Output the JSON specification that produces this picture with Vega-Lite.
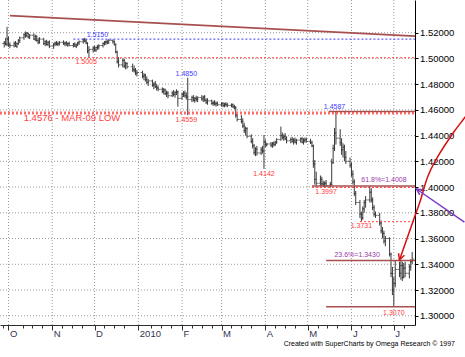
{
"$schema": "https://vega.github.io/schema/vega-lite/v6.json",
"width": 415, "height": 325,
"autosize": {"type": "none"},
"padding": {"left": 0, "top": 0, "right": 50, "bottom": 32},
"background": "white",
"config": {"view": {"stroke": null}, "font": "Liberation Sans", "axis": {"labelOverlap": false}},
"title": {"text": "Created with SuperCharts by Omega Research © 1997", "orient": "bottom", "anchor": "end", "frame": "group", "dx": 40, "fontSize": 7, "font": "Liberation Sans", "fontWeight": "normal", "color": "#000000", "offset": 2},
"resolve": {"axis": {"x": "independent", "y": "independent"}},
"datasets": {
"gx": [{"d":"2009-10-01"},{"d":"2009-11-01"},{"d":"2009-12-01"},{"d":"2010-01-01"},{"d":"2010-02-01"},{"d":"2010-03-01"},{"d":"2010-04-01"},{"d":"2010-05-01"},{"d":"2010-06-01"},{"d":"2010-07-01"}],
"gy": [{"p":1.30},{"p":1.32},{"p":1.34},{"p":1.36},{"p":1.38},{"p":1.40},{"p":1.42},{"p":1.44},{"p":1.46},{"p":1.48},{"p":1.50},{"p":1.52}],
"bars": [
{"d":"2009-09-28","o":1.5115,"h":1.5135,"l":1.5085,"c":1.5120},
{"d":"2009-09-29","o":1.5120,"h":1.5160,"l":1.5100,"c":1.5110},
{"d":"2009-09-30","o":1.5110,"h":1.5245,"l":1.5095,"c":1.5150},
{"d":"2009-10-01","o":1.5150,"h":1.5170,"l":1.5090,"c":1.5105},
{"d":"2009-10-02","o":1.5105,"h":1.5125,"l":1.5080,"c":1.5100},
{"d":"2009-10-05","o":1.5100,"h":1.5130,"l":1.5085,"c":1.5115},
{"d":"2009-10-06","o":1.5115,"h":1.5135,"l":1.5090,"c":1.5095},
{"d":"2009-10-07","o":1.5095,"h":1.5125,"l":1.5080,"c":1.5115},
{"d":"2009-10-08","o":1.5115,"h":1.5150,"l":1.5105,"c":1.5140},
{"d":"2009-10-09","o":1.5140,"h":1.5170,"l":1.5120,"c":1.5160},
{"d":"2009-10-12","o":1.5160,"h":1.5195,"l":1.5145,"c":1.5185},
{"d":"2009-10-13","o":1.5185,"h":1.5210,"l":1.5160,"c":1.5175},
{"d":"2009-10-14","o":1.5175,"h":1.5205,"l":1.5165,"c":1.5195},
{"d":"2009-10-15","o":1.5195,"h":1.5200,"l":1.5155,"c":1.5165},
{"d":"2009-10-16","o":1.5165,"h":1.5190,"l":1.5150,"c":1.5180},
{"d":"2009-10-19","o":1.5180,"h":1.5195,"l":1.5145,"c":1.5150},
{"d":"2009-10-20","o":1.5150,"h":1.5185,"l":1.5135,"c":1.5170},
{"d":"2009-10-21","o":1.5170,"h":1.5180,"l":1.5130,"c":1.5140},
{"d":"2009-10-22","o":1.5140,"h":1.5160,"l":1.5110,"c":1.5125},
{"d":"2009-10-23","o":1.5125,"h":1.5165,"l":1.5115,"c":1.5150},
{"d":"2009-10-26","o":1.5150,"h":1.5160,"l":1.5105,"c":1.5115},
{"d":"2009-10-27","o":1.5115,"h":1.5140,"l":1.5095,"c":1.5130},
{"d":"2009-10-28","o":1.5130,"h":1.5145,"l":1.5100,"c":1.5110},
{"d":"2009-10-29","o":1.5110,"h":1.5135,"l":1.5095,"c":1.5125},
{"d":"2009-10-30","o":1.5125,"h":1.5140,"l":1.5080,"c":1.5095},
{"d":"2009-11-02","o":1.5095,"h":1.5120,"l":1.5075,"c":1.5110},
{"d":"2009-11-03","o":1.5110,"h":1.5130,"l":1.5095,"c":1.5120},
{"d":"2009-11-04","o":1.5120,"h":1.5135,"l":1.5100,"c":1.5110},
{"d":"2009-11-05","o":1.5110,"h":1.5130,"l":1.5095,"c":1.5115},
{"d":"2009-11-06","o":1.5115,"h":1.5135,"l":1.5100,"c":1.5125},
{"d":"2009-11-09","o":1.5125,"h":1.5140,"l":1.5105,"c":1.5115},
{"d":"2009-11-10","o":1.5115,"h":1.5130,"l":1.5095,"c":1.5120},
{"d":"2009-11-11","o":1.5120,"h":1.5135,"l":1.5100,"c":1.5105},
{"d":"2009-11-12","o":1.5105,"h":1.5125,"l":1.5090,"c":1.5115},
{"d":"2009-11-13","o":1.5115,"h":1.5130,"l":1.5095,"c":1.5100},
{"d":"2009-11-16","o":1.5100,"h":1.5120,"l":1.5085,"c":1.5110},
{"d":"2009-11-17","o":1.5110,"h":1.5125,"l":1.5090,"c":1.5095},
{"d":"2009-11-18","o":1.5095,"h":1.5115,"l":1.5080,"c":1.5105},
{"d":"2009-11-19","o":1.5105,"h":1.5130,"l":1.5095,"c":1.5120},
{"d":"2009-11-20","o":1.5120,"h":1.5140,"l":1.5105,"c":1.5130},
{"d":"2009-11-23","o":1.5130,"h":1.5155,"l":1.5115,"c":1.5145},
{"d":"2009-11-24","o":1.5145,"h":1.5160,"l":1.5125,"c":1.5135},
{"d":"2009-11-25","o":1.5135,"h":1.5150,"l":1.5110,"c":1.5120},
{"d":"2009-11-26","o":1.5120,"h":1.5125,"l":1.5040,"c":1.5060},
{"d":"2009-11-27","o":1.5060,"h":1.5095,"l":1.5005,"c":1.5070},
{"d":"2009-11-30","o":1.5070,"h":1.5095,"l":1.5045,"c":1.5080},
{"d":"2009-12-01","o":1.5080,"h":1.5100,"l":1.5055,"c":1.5065},
{"d":"2009-12-02","o":1.5065,"h":1.5090,"l":1.5050,"c":1.5085},
{"d":"2009-12-03","o":1.5085,"h":1.5105,"l":1.5065,"c":1.5090},
{"d":"2009-12-04","o":1.5090,"h":1.5110,"l":1.5070,"c":1.5100},
{"d":"2009-12-07","o":1.5100,"h":1.5125,"l":1.5085,"c":1.5115},
{"d":"2009-12-08","o":1.5115,"h":1.5135,"l":1.5100,"c":1.5125},
{"d":"2009-12-09","o":1.5125,"h":1.5140,"l":1.5105,"c":1.5130},
{"d":"2009-12-10","o":1.5130,"h":1.5145,"l":1.5110,"c":1.5120},
{"d":"2009-12-11","o":1.5120,"h":1.5150,"l":1.5115,"c":1.5140},
{"d":"2009-12-14","o":1.5140,"h":1.5148,"l":1.5115,"c":1.5130},
{"d":"2009-12-15","o":1.5130,"h":1.5140,"l":1.5100,"c":1.5110},
{"d":"2009-12-16","o":1.5110,"h":1.5115,"l":1.5040,"c":1.5050},
{"d":"2009-12-17","o":1.5050,"h":1.5060,"l":1.4960,"c":1.4975},
{"d":"2009-12-18","o":1.4975,"h":1.5010,"l":1.4930,"c":1.4950},
{"d":"2009-12-21","o":1.4950,"h":1.5000,"l":1.4930,"c":1.4985},
{"d":"2009-12-22","o":1.4985,"h":1.4995,"l":1.4925,"c":1.4940},
{"d":"2009-12-23","o":1.4940,"h":1.4975,"l":1.4915,"c":1.4960},
{"d":"2009-12-24","o":1.4960,"h":1.4970,"l":1.4920,"c":1.4935},
{"d":"2009-12-28","o":1.4935,"h":1.4960,"l":1.4895,"c":1.4915},
{"d":"2009-12-29","o":1.4915,"h":1.4945,"l":1.4890,"c":1.4905},
{"d":"2009-12-30","o":1.4905,"h":1.4925,"l":1.4870,"c":1.4885},
{"d":"2009-12-31","o":1.4885,"h":1.4910,"l":1.4860,"c":1.4890},
{"d":"2010-01-04","o":1.4890,"h":1.4905,"l":1.4845,"c":1.4860},
{"d":"2010-01-05","o":1.4860,"h":1.4885,"l":1.4830,"c":1.4870},
{"d":"2010-01-06","o":1.4870,"h":1.4880,"l":1.4820,"c":1.4835},
{"d":"2010-01-07","o":1.4835,"h":1.4860,"l":1.4800,"c":1.4815},
{"d":"2010-01-08","o":1.4815,"h":1.4840,"l":1.4785,"c":1.4825},
{"d":"2010-01-11","o":1.4825,"h":1.4835,"l":1.4780,"c":1.4790},
{"d":"2010-01-12","o":1.4790,"h":1.4815,"l":1.4760,"c":1.4800},
{"d":"2010-01-13","o":1.4800,"h":1.4825,"l":1.4770,"c":1.4780},
{"d":"2010-01-14","o":1.4780,"h":1.4800,"l":1.4750,"c":1.4770},
{"d":"2010-01-15","o":1.4770,"h":1.4790,"l":1.4745,"c":1.4760},
{"d":"2010-01-18","o":1.4760,"h":1.4775,"l":1.4730,"c":1.4745},
{"d":"2010-01-19","o":1.4745,"h":1.4770,"l":1.4720,"c":1.4755},
{"d":"2010-01-20","o":1.4755,"h":1.4765,"l":1.4715,"c":1.4725},
{"d":"2010-01-21","o":1.4725,"h":1.4750,"l":1.4700,"c":1.4730},
{"d":"2010-01-22","o":1.4730,"h":1.4745,"l":1.4690,"c":1.4710},
{"d":"2010-01-25","o":1.4710,"h":1.4745,"l":1.4700,"c":1.4730},
{"d":"2010-01-26","o":1.4730,"h":1.4755,"l":1.4705,"c":1.4720},
{"d":"2010-01-27","o":1.4720,"h":1.4745,"l":1.4695,"c":1.4735},
{"d":"2010-01-28","o":1.4735,"h":1.4760,"l":1.4715,"c":1.4740},
{"d":"2010-01-29","o":1.4740,"h":1.4750,"l":1.4625,"c":1.4690},
{"d":"2010-02-01","o":1.4690,"h":1.4735,"l":1.4680,"c":1.4720},
{"d":"2010-02-02","o":1.4720,"h":1.4745,"l":1.4700,"c":1.4730},
{"d":"2010-02-03","o":1.4730,"h":1.4750,"l":1.4695,"c":1.4710},
{"d":"2010-02-04","o":1.4710,"h":1.4735,"l":1.4680,"c":1.4700},
{"d":"2010-02-05","o":1.4700,"h":1.4850,"l":1.4559,"c":1.4680},
{"d":"2010-02-08","o":1.4680,"h":1.4710,"l":1.4660,"c":1.4695},
{"d":"2010-02-09","o":1.4695,"h":1.4715,"l":1.4665,"c":1.4675},
{"d":"2010-02-10","o":1.4675,"h":1.4700,"l":1.4655,"c":1.4690},
{"d":"2010-02-11","o":1.4690,"h":1.4710,"l":1.4665,"c":1.4680},
{"d":"2010-02-12","o":1.4680,"h":1.4705,"l":1.4660,"c":1.4695},
{"d":"2010-02-15","o":1.4695,"h":1.4715,"l":1.4670,"c":1.4685},
{"d":"2010-02-16","o":1.4685,"h":1.4710,"l":1.4660,"c":1.4700},
{"d":"2010-02-17","o":1.4700,"h":1.4715,"l":1.4665,"c":1.4675},
{"d":"2010-02-18","o":1.4675,"h":1.4690,"l":1.4645,"c":1.4660},
{"d":"2010-02-19","o":1.4660,"h":1.4690,"l":1.4640,"c":1.4670},
{"d":"2010-02-22","o":1.4670,"h":1.4680,"l":1.4640,"c":1.4650},
{"d":"2010-02-23","o":1.4650,"h":1.4670,"l":1.4630,"c":1.4655},
{"d":"2010-02-24","o":1.4655,"h":1.4675,"l":1.4635,"c":1.4645},
{"d":"2010-02-25","o":1.4645,"h":1.4665,"l":1.4625,"c":1.4650},
{"d":"2010-02-26","o":1.4650,"h":1.4665,"l":1.4630,"c":1.4640},
{"d":"2010-03-01","o":1.4640,"h":1.4660,"l":1.4625,"c":1.4650},
{"d":"2010-03-02","o":1.4650,"h":1.4660,"l":1.4620,"c":1.4635},
{"d":"2010-03-03","o":1.4635,"h":1.4655,"l":1.4620,"c":1.4645},
{"d":"2010-03-04","o":1.4645,"h":1.4660,"l":1.4625,"c":1.4640},
{"d":"2010-03-05","o":1.4640,"h":1.4655,"l":1.4620,"c":1.4635},
{"d":"2010-03-08","o":1.4635,"h":1.4650,"l":1.4620,"c":1.4640},
{"d":"2010-03-09","o":1.4640,"h":1.4650,"l":1.4615,"c":1.4625},
{"d":"2010-03-10","o":1.4625,"h":1.4640,"l":1.4605,"c":1.4615},
{"d":"2010-03-11","o":1.4615,"h":1.4630,"l":1.4540,"c":1.4560},
{"d":"2010-03-12","o":1.4560,"h":1.4580,"l":1.4510,"c":1.4525},
{"d":"2010-03-15","o":1.4525,"h":1.4560,"l":1.4495,"c":1.4510},
{"d":"2010-03-16","o":1.4510,"h":1.4535,"l":1.4460,"c":1.4475},
{"d":"2010-03-17","o":1.4475,"h":1.4500,"l":1.4420,"c":1.4440},
{"d":"2010-03-18","o":1.4440,"h":1.4470,"l":1.4400,"c":1.4455},
{"d":"2010-03-19","o":1.4455,"h":1.4465,"l":1.4380,"c":1.4395},
{"d":"2010-03-22","o":1.4395,"h":1.4410,"l":1.4340,"c":1.4355},
{"d":"2010-03-23","o":1.4355,"h":1.4380,"l":1.4300,"c":1.4320},
{"d":"2010-03-24","o":1.4320,"h":1.4335,"l":1.4250,"c":1.4270},
{"d":"2010-03-25","o":1.4270,"h":1.4310,"l":1.4240,"c":1.4295},
{"d":"2010-03-26","o":1.4295,"h":1.4320,"l":1.4245,"c":1.4265},
{"d":"2010-03-29","o":1.4265,"h":1.4310,"l":1.4250,"c":1.4290},
{"d":"2010-03-30","o":1.4290,"h":1.4320,"l":1.4260,"c":1.4280},
{"d":"2010-03-31","o":1.4280,"h":1.4405,"l":1.4142,"c":1.4350},
{"d":"2010-04-01","o":1.4350,"h":1.4370,"l":1.4310,"c":1.4330},
{"d":"2010-04-02","o":1.4330,"h":1.4345,"l":1.4315,"c":1.4335},
{"d":"2010-04-05","o":1.4335,"h":1.4350,"l":1.4310,"c":1.4325},
{"d":"2010-04-06","o":1.4325,"h":1.4350,"l":1.4305,"c":1.4340},
{"d":"2010-04-07","o":1.4340,"h":1.4355,"l":1.4315,"c":1.4330},
{"d":"2010-04-08","o":1.4330,"h":1.4360,"l":1.4320,"c":1.4350},
{"d":"2010-04-09","o":1.4350,"h":1.4380,"l":1.4335,"c":1.4370},
{"d":"2010-04-12","o":1.4370,"h":1.4470,"l":1.4360,"c":1.4400},
{"d":"2010-04-13","o":1.4400,"h":1.4425,"l":1.4370,"c":1.4385},
{"d":"2010-04-14","o":1.4385,"h":1.4410,"l":1.4360,"c":1.4395},
{"d":"2010-04-15","o":1.4395,"h":1.4420,"l":1.4365,"c":1.4375},
{"d":"2010-04-16","o":1.4375,"h":1.4395,"l":1.4340,"c":1.4360},
{"d":"2010-04-19","o":1.4360,"h":1.4385,"l":1.4340,"c":1.4370},
{"d":"2010-04-20","o":1.4370,"h":1.4390,"l":1.4345,"c":1.4355},
{"d":"2010-04-21","o":1.4355,"h":1.4380,"l":1.4330,"c":1.4365},
{"d":"2010-04-22","o":1.4365,"h":1.4385,"l":1.4340,"c":1.4350},
{"d":"2010-04-23","o":1.4350,"h":1.4375,"l":1.4330,"c":1.4365},
{"d":"2010-04-26","o":1.4365,"h":1.4385,"l":1.4345,"c":1.4375},
{"d":"2010-04-27","o":1.4375,"h":1.4390,"l":1.4340,"c":1.4350},
{"d":"2010-04-28","o":1.4350,"h":1.4380,"l":1.4330,"c":1.4360},
{"d":"2010-04-29","o":1.4360,"h":1.4385,"l":1.4345,"c":1.4370},
{"d":"2010-04-30","o":1.4370,"h":1.4385,"l":1.4345,"c":1.4355},
{"d":"2010-05-03","o":1.4355,"h":1.4375,"l":1.4335,"c":1.4345},
{"d":"2010-05-04","o":1.4345,"h":1.4360,"l":1.4310,"c":1.4320},
{"d":"2010-05-05","o":1.4320,"h":1.4330,"l":1.4150,"c":1.4180},
{"d":"2010-05-06","o":1.4180,"h":1.4210,"l":1.4020,"c":1.4060},
{"d":"2010-05-07","o":1.4060,"h":1.4120,"l":1.4010,"c":1.4030},
{"d":"2010-05-10","o":1.4030,"h":1.4090,"l":1.4005,"c":1.4060},
{"d":"2010-05-11","o":1.4060,"h":1.4080,"l":1.4010,"c":1.4025},
{"d":"2010-05-12","o":1.4025,"h":1.4050,"l":1.4000,"c":1.4015},
{"d":"2010-05-13","o":1.4015,"h":1.4045,"l":1.3997,"c":1.4030},
{"d":"2010-05-14","o":1.4030,"h":1.4055,"l":1.4000,"c":1.4010},
{"d":"2010-05-17","o":1.4010,"h":1.4040,"l":1.3997,"c":1.4020},
{"d":"2010-05-18","o":1.4020,"h":1.4220,"l":1.4010,"c":1.4190},
{"d":"2010-05-19","o":1.4190,"h":1.4330,"l":1.4180,"c":1.4300},
{"d":"2010-05-20","o":1.4300,"h":1.4460,"l":1.4280,"c":1.4420},
{"d":"2010-05-21","o":1.4420,"h":1.4587,"l":1.4330,"c":1.4380},
{"d":"2010-05-24","o":1.4380,"h":1.4450,"l":1.4320,"c":1.4345},
{"d":"2010-05-25","o":1.4345,"h":1.4380,"l":1.4250,"c":1.4290},
{"d":"2010-05-26","o":1.4290,"h":1.4340,"l":1.4230,"c":1.4310},
{"d":"2010-05-27","o":1.4310,"h":1.4330,"l":1.4200,"c":1.4230},
{"d":"2010-05-28","o":1.4230,"h":1.4280,"l":1.4180,"c":1.4200},
{"d":"2010-05-31","o":1.4200,"h":1.4230,"l":1.4150,"c":1.4170},
{"d":"2010-06-01","o":1.4170,"h":1.4190,"l":1.4080,"c":1.4100},
{"d":"2010-06-02","o":1.4100,"h":1.4130,"l":1.4020,"c":1.4040},
{"d":"2010-06-03","o":1.4040,"h":1.4060,"l":1.3930,"c":1.3950},
{"d":"2010-06-04","o":1.3950,"h":1.3970,"l":1.3860,"c":1.3880},
{"d":"2010-06-07","o":1.3880,"h":1.3900,"l":1.3760,"c":1.3790},
{"d":"2010-06-08","o":1.3790,"h":1.3810,"l":1.3731,"c":1.3760},
{"d":"2010-06-09","o":1.3760,"h":1.3850,"l":1.3745,"c":1.3830},
{"d":"2010-06-10","o":1.3830,"h":1.3900,"l":1.3800,"c":1.3880},
{"d":"2010-06-11","o":1.3880,"h":1.3930,"l":1.3840,"c":1.3900},
{"d":"2010-06-14","o":1.3900,"h":1.4008,"l":1.3880,"c":1.3960},
{"d":"2010-06-15","o":1.3960,"h":1.3990,"l":1.3880,"c":1.3900},
{"d":"2010-06-16","o":1.3900,"h":1.3920,"l":1.3820,"c":1.3840},
{"d":"2010-06-17","o":1.3840,"h":1.3860,"l":1.3770,"c":1.3790},
{"d":"2010-06-18","o":1.3790,"h":1.3810,"l":1.3760,"c":1.3780},
{"d":"2010-06-21","o":1.3780,"h":1.3800,"l":1.3700,"c":1.3720},
{"d":"2010-06-22","o":1.3720,"h":1.3740,"l":1.3640,"c":1.3660},
{"d":"2010-06-23","o":1.3660,"h":1.3690,"l":1.3600,"c":1.3640},
{"d":"2010-06-24","o":1.3640,"h":1.3660,"l":1.3560,"c":1.3580},
{"d":"2010-06-25","o":1.3580,"h":1.3620,"l":1.3540,"c":1.3600},
{"d":"2010-06-28","o":1.3600,"h":1.3610,"l":1.3460,"c":1.3480},
{"d":"2010-06-29","o":1.3480,"h":1.3490,"l":1.3300,"c":1.3330},
{"d":"2010-06-30","o":1.3330,"h":1.3380,"l":1.3160,"c":1.3200},
{"d":"2010-07-01","o":1.3200,"h":1.3300,"l":1.3070,"c":1.3250},
{"d":"2010-07-02","o":1.3250,"h":1.3430,"l":1.3220,"c":1.3360},
{"d":"2010-07-05","o":1.3360,"h":1.3420,"l":1.3300,"c":1.3330},
{"d":"2010-07-06","o":1.3330,"h":1.3430,"l":1.3280,"c":1.3390},
{"d":"2010-07-07","o":1.3390,"h":1.3420,"l":1.3270,"c":1.3300},
{"d":"2010-07-08","o":1.3300,"h":1.3410,"l":1.3290,"c":1.3370},
{"d":"2010-07-09","o":1.3370,"h":1.3420,"l":1.3300,"c":1.3330},
{"d":"2010-07-12","o":1.3330,"h":1.3400,"l":1.3290,"c":1.3380},
{"d":"2010-07-13","o":1.3380,"h":1.3440,"l":1.3350,"c":1.3420},
{"d":"2010-07-14","o":1.3420,"h":1.3495,"l":1.3400,"c":1.3440}
],
"trend": [{"d":"2009-10-02","p":1.5332},{"d":"2010-07-16","p":1.5174}],
"levels": [
{"kind":"res","d1":"2009-11-16","d2":"2010-07-16","p":1.5150},
{"kind":"sup","d1":"2009-09-25","d2":"2010-07-16","p":1.5005},
{"kind":"major","d1":"2009-09-25","d2":"2010-07-16","p":1.4576},
{"kind":"fib","d1":"2010-05-16","d2":"2010-07-16","p":1.4587},
{"kind":"fib","d1":"2010-05-04","d2":"2010-07-16","p":1.4008},
{"kind":"sup","d1":"2010-05-04","d2":"2010-07-16","p":1.3997},
{"kind":"sup","d1":"2010-06-07","d2":"2010-07-16","p":1.3731},
{"kind":"fib","d1":"2010-05-14","d2":"2010-07-16","p":1.3430},
{"kind":"fib","d1":"2010-05-14","d2":"2010-07-16","p":1.3070}
],
"labels": [
{"kind":"high","d":"2009-12-03","p":1.5182,"t":"1.5150"},
{"kind":"low","d":"2009-11-25","p":1.4976,"t":"1.5005"},
{"kind":"high","d":"2010-02-04","p":1.4875,"t":"1.4850"},
{"kind":"low","d":"2010-02-04","p":1.4525,"t":"1.4559"},
{"kind":"note","d":"2009-11-15","p":1.4533,"t":"1.4576 - MAR-09 LOW"},
{"kind":"high","d":"2010-05-20","p":1.4622,"t":"1.4587"},
{"kind":"low","d":"2010-03-31","p":1.4098,"t":"1.4142"},
{"kind":"low","d":"2010-05-14","p":1.3958,"t":"1.3997"},
{"kind":"fib","d":"2010-06-24","p":1.4055,"t":"61.8%=1.4008"},
{"kind":"low","d":"2010-06-08","p":1.3701,"t":"1.3731"},
{"kind":"fib","d":"2010-06-05","p":1.3472,"t":"23.6%=1.3430"},
{"kind":"low","d":"2010-07-01","p":1.3021,"t":"1.3070"}
],
"arc": [
{"ord":1,"d":"2010-08-24","p":1.4599},
{"ord":2,"d":"2010-08-20","p":1.4537},
{"ord":3,"d":"2010-08-12","p":1.4420},
{"ord":4,"d":"2010-08-01","p":1.4234},
{"ord":5,"d":"2010-07-25","p":1.4080},
{"ord":6,"d":"2010-07-20","p":1.3902},
{"ord":7,"d":"2010-07-16","p":1.3777},
{"ord":8,"d":"2010-07-05","p":1.3433}
],
"purple": [{"ord":1,"d":"2010-08-20","p":1.3728},{"ord":2,"d":"2010-07-17","p":1.3985}],
"heads": [{"kind":"red","d":"2010-07-05","p":1.3433},{"kind":"purple","d":"2010-07-17","p":1.3985}]
},
"layer": [
{"data":{"name":"gx"},
 "mark":{"type":"rule","color":"#9a9a9a","strokeWidth":1,"strokeDash":[1,2]},
 "encoding":{"x":{"field":"d","type":"temporal","axis":null}}},
{"data":{"name":"gy"},
 "mark":{"type":"rule","color":"#9a9a9a","strokeWidth":1,"strokeDash":[1,2]},
 "encoding":{"y":{"field":"p","type":"quantitative","axis":null}}},
{"data":{"name":"bars"},
 "mark":{"type":"rule","color":"#3a3a3a","strokeWidth":1},
 "encoding":{
  "x":{"field":"d","type":"temporal",
   "scale":{"type":"utc","domain":[{"year":2009,"month":9,"date":25,"utc":true},{"year":2010,"month":7,"date":16,"utc":true}]},
   "axis":{"title":null,"orient":"bottom",
    "values":[
     {"year":2009,"month":10,"date":1,"utc":true},{"year":2009,"month":11,"date":1,"utc":true},{"year":2009,"month":12,"date":1,"utc":true},
     {"year":2010,"month":1,"date":1,"utc":true},{"year":2010,"month":2,"date":1,"utc":true},{"year":2010,"month":3,"date":1,"utc":true},
     {"year":2010,"month":4,"date":1,"utc":true},{"year":2010,"month":5,"date":1,"utc":true},{"year":2010,"month":6,"date":1,"utc":true},
     {"year":2010,"month":7,"date":1,"utc":true}
    ],
    "labelExpr":"utcmonth(datum.value)==0 ? '2010' : slice(utcFormat(datum.value,'%b'),0,1)",
    "labelAlign":"left","labelOffset":1,"labelFontSize":9.5,"labelColor":"#333355","labelPadding":-2,
    "labelOverlap":false,"labelFlush":false,"labelBaseline":"top",
    "tickSize":5,"tickColor":"#303030","domainColor":"#303030",
    "grid":false}},
  "y":{"field":"l","type":"quantitative",
   "scale":{"domain":[1.2928,1.5454],"zero":false,"nice":false},
   "axis":{"title":null,"orient":"right","values":[1.30,1.32,1.34,1.36,1.38,1.40,1.42,1.44,1.46,1.48,1.50,1.52],
    "format":".5f","labelFontSize":9.5,"labelColor":"#000000","tickSize":3,"tickColor":"#000000","domainColor":"#000000",
    "labelOverlap":false,"labelPadding":1.5,"grid":false}},
  "y2":{"field":"h"}}},
{"data":{"name":"bars"},
 "mark":{"type":"tick","orient":"horizontal","size":2,"thickness":1,"xOffset":-1,"color":"#3a3a3a"},
 "encoding":{"x":{"field":"d","type":"temporal",
   "axis":{"title":null,"orient":"bottom","labels":false,"grid":false,"domain":false,"tickSize":3,"tickColor":"#303030",
    "values":[
     {"year":2009,"month":9,"date":27,"utc":true},{"year":2009,"month":10,"date":11,"utc":true},{"year":2009,"month":10,"date":18,"utc":true},{"year":2009,"month":10,"date":25,"utc":true},
     {"year":2009,"month":11,"date":8,"utc":true},{"year":2009,"month":11,"date":15,"utc":true},{"year":2009,"month":11,"date":22,"utc":true},
     {"year":2009,"month":12,"date":8,"utc":true},{"year":2009,"month":12,"date":15,"utc":true},{"year":2009,"month":12,"date":22,"utc":true},
     {"year":2010,"month":1,"date":10,"utc":true},{"year":2010,"month":1,"date":17,"utc":true},{"year":2010,"month":1,"date":24,"utc":true},
     {"year":2010,"month":2,"date":8,"utc":true},{"year":2010,"month":2,"date":15,"utc":true},{"year":2010,"month":2,"date":22,"utc":true},
     {"year":2010,"month":3,"date":8,"utc":true},{"year":2010,"month":3,"date":15,"utc":true},{"year":2010,"month":3,"date":22,"utc":true},
     {"year":2010,"month":4,"date":8,"utc":true},{"year":2010,"month":4,"date":15,"utc":true},{"year":2010,"month":4,"date":22,"utc":true},
     {"year":2010,"month":5,"date":8,"utc":true},{"year":2010,"month":5,"date":15,"utc":true},{"year":2010,"month":5,"date":22,"utc":true},
     {"year":2010,"month":6,"date":8,"utc":true},{"year":2010,"month":6,"date":15,"utc":true},{"year":2010,"month":6,"date":22,"utc":true},
     {"year":2010,"month":7,"date":8,"utc":true}
    ]}},
  "y":{"field":"o","type":"quantitative","axis":null}}},
{"data":{"name":"bars"},
 "mark":{"type":"tick","orient":"horizontal","size":2,"thickness":1,"xOffset":1,"color":"#3a3a3a"},
 "encoding":{"x":{"field":"d","type":"temporal","axis":null},"y":{"field":"c","type":"quantitative","axis":null}}},
{"data":{"name":"trend"},
 "mark":{"type":"line","color":"#a85050","strokeWidth":1.8},
 "encoding":{"x":{"field":"d","type":"temporal","axis":null},"y":{"field":"p","type":"quantitative","axis":null}}},
{"data":{"name":"levels"},"transform":[{"filter":"datum.kind=='major'"}],
 "mark":{"type":"rule","color":"#ff6a6a","strokeWidth":3,"strokeDash":[2,2]},
 "encoding":{"x":{"field":"d1","type":"temporal","axis":null},"x2":{"field":"d2"},"y":{"field":"p","type":"quantitative","axis":null}}},
{"data":{"name":"levels"},"transform":[{"filter":"datum.kind=='fib'"}],
 "mark":{"type":"rule","color":"#a85050","strokeWidth":1.5},
 "encoding":{"x":{"field":"d1","type":"temporal","axis":null},"x2":{"field":"d2"},"y":{"field":"p","type":"quantitative","axis":null}}},
{"data":{"name":"levels"},"transform":[{"filter":"datum.kind=='sup'"}],
 "mark":{"type":"rule","color":"#ff4040","strokeWidth":1,"strokeDash":[2,2]},
 "encoding":{"x":{"field":"d1","type":"temporal","axis":null},"x2":{"field":"d2"},"y":{"field":"p","type":"quantitative","axis":null}}},
{"data":{"name":"levels"},"transform":[{"filter":"datum.kind=='res'"}],
 "mark":{"type":"rule","color":"#3a3aff","strokeWidth":1,"strokeDash":[2,2]},
 "encoding":{"x":{"field":"d1","type":"temporal","axis":null},"x2":{"field":"d2"},"y":{"field":"p","type":"quantitative","axis":null}}},
{"data":{"name":"labels"},"transform":[{"filter":"datum.kind=='high'"}],
 "mark":{"type":"text","color":"#4040ff","fontSize":7,"baseline":"middle","align":"center"},
 "encoding":{"x":{"field":"d","type":"temporal","axis":null},"y":{"field":"p","type":"quantitative","axis":null},"text":{"field":"t"}}},
{"data":{"name":"labels"},"transform":[{"filter":"datum.kind=='low'"}],
 "mark":{"type":"text","color":"#ff3a3a","fontSize":7,"baseline":"middle","align":"center"},
 "encoding":{"x":{"field":"d","type":"temporal","axis":null},"y":{"field":"p","type":"quantitative","axis":null},"text":{"field":"t"}}},
{"data":{"name":"labels"},"transform":[{"filter":"datum.kind=='fib'"}],
 "mark":{"type":"text","color":"#9a3aa8","fontSize":7,"baseline":"middle","align":"center"},
 "encoding":{"x":{"field":"d","type":"temporal","axis":null},"y":{"field":"p","type":"quantitative","axis":null},"text":{"field":"t"}}},
{"data":{"name":"labels"},"transform":[{"filter":"datum.kind=='note'"}],
 "mark":{"type":"text","color":"#ff4040","fontSize":9.5,"baseline":"middle","align":"center"},
 "encoding":{"x":{"field":"d","type":"temporal","axis":null},"y":{"field":"p","type":"quantitative","axis":null},"text":{"field":"t"}}},
{"data":{"name":"arc"},
 "mark":{"type":"line","color":"#d41010","strokeWidth":1.5,"interpolate":"cardinal"},
 "encoding":{"x":{"field":"d","type":"temporal","axis":null},"y":{"field":"p","type":"quantitative","axis":null},"order":{"field":"ord","type":"quantitative"}}},
{"data":{"name":"purple"},
 "mark":{"type":"line","color":"#7a3ac0","strokeWidth":1.5},
 "encoding":{"x":{"field":"d","type":"temporal","axis":null},"y":{"field":"p","type":"quantitative","axis":null},"order":{"field":"ord","type":"quantitative"}}},
{"data":{"name":"heads"},"transform":[{"filter":"datum.kind=='red'"}],
 "mark":{"type":"point","shape":"M -0.5 -1 L 0 0 L 0.5 -1","filled":false,"stroke":"#d41010","strokeWidth":1.5,"size":150,"angle":19,"opacity":1},
 "encoding":{"x":{"field":"d","type":"temporal","axis":null},"y":{"field":"p","type":"quantitative","axis":null}}},
{"data":{"name":"heads"},"transform":[{"filter":"datum.kind=='purple'"}],
 "mark":{"type":"point","shape":"M -0.5 -1 L 0 0 L 0.5 -1","filled":false,"stroke":"#7a3ac0","strokeWidth":1.5,"size":150,"angle":124,"opacity":1},
 "encoding":{"x":{"field":"d","type":"temporal","axis":null},"y":{"field":"p","type":"quantitative","axis":null}}}
]
}
